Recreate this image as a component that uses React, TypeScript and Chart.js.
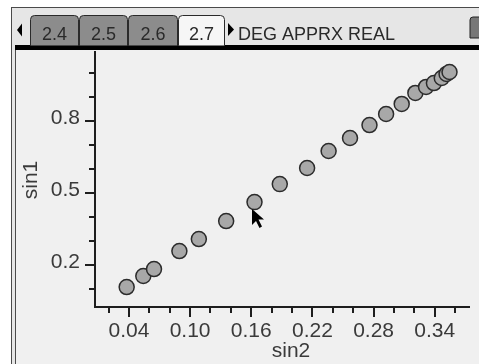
import React, { useEffect, useRef } from "react";
import { Chart, registerables } from "chart.js";

Chart.register(...registerables);

// ---- data ----
const sin2 = [0.0378, 0.0541, 0.0646, 0.0895, 0.1086, 0.1354, 0.1632, 0.188, 0.2148, 0.2359, 0.2569, 0.276, 0.2923, 0.3076, 0.321, 0.3315, 0.3392, 0.3469, 0.3516, 0.3545];
const sin1 = [0.106, 0.152, 0.181, 0.256, 0.306, 0.381, 0.46, 0.535, 0.602, 0.673, 0.727, 0.781, 0.827, 0.869, 0.915, 0.94, 0.956, 0.977, 0.994, 1.002];

const xTickValues = [0.02, 0.04, 0.06, 0.08, 0.1, 0.12, 0.14, 0.16, 0.18, 0.2, 0.22, 0.24, 0.26, 0.28, 0.3, 0.32, 0.34, 0.36];
const xTickLabels = ["0.04", "0.10", "0.16", "0.22", "0.28", "0.34"];
const yTickValues = [0.1, 0.2, 0.3, 0.4, 0.5, 0.6, 0.7, 0.8, 0.9, 1.0];
const yTickLabels = ["0.2", "0.5", "0.8"];
const tabLabels = ["2.4", "2.5", "2.6", "2.7"];
const statusText = "DEG APPRX REAL";
const xTitle = "sin2";
const yTitle = "sin1";

const FONT = "'Liberation Sans', Arial, sans-serif";

function roundTopRect(ctx: CanvasRenderingContext2D, x: number, y: number, w: number, h: number, r: number) {
  ctx.beginPath();
  ctx.moveTo(x, y + h);
  ctx.lineTo(x, y + r);
  ctx.quadraticCurveTo(x, y, x + r, y);
  ctx.lineTo(x + w - r, y);
  ctx.quadraticCurveTo(x + w, y, x + w, y + r);
  ctx.lineTo(x + w, y + h);
}

const framePlugin = {
  id: "tiframe",
  beforeDraw(chart: any) {
    const ctx: CanvasRenderingContext2D = chart.ctx;
    const W = chart.width;
    const H = chart.height;
    ctx.save();
    ctx.fillStyle = "#ffffff";
    ctx.fillRect(0, 0, W, H);
    ctx.fillStyle = "#e6e6e6";
    ctx.fillRect(11, 7, W - 11, H - 7);
    ctx.fillStyle = "#f0f0f0";
    ctx.fillRect(16, 50, W - 16, H - 50);
    ctx.fillStyle = "#4a4a4a";
    ctx.fillRect(11, 7, W - 11, 1);
    ctx.fillRect(11, 7, 1, H - 7);
    ctx.fillRect(15, 50, 1, H - 50);
    ctx.fillStyle = "#000000";
    ctx.fillRect(15, 45, W - 15, 5);

    ctx.fillStyle = "#000";
    ctx.beginPath();
    ctx.moveTo(17, 30);
    ctx.lineTo(22, 23.5);
    ctx.lineTo(22, 36.5);
    ctx.closePath();
    ctx.fill();

    const tabX = [30, 79, 128, 178];
    const tabW = [48, 48, 49, 46];
    ctx.font = `18px ${FONT}`;
    ctx.textAlign = "center";
    ctx.textBaseline = "alphabetic";
    tabLabels.forEach((t, i) => {
      const active = i === tabLabels.length - 1;
      roundTopRect(ctx, tabX[i] + 0.5, 15.5, tabW[i], 30, 4);
      ctx.fillStyle = active ? "#f6f6f6" : "#8c8c8c";
      ctx.fill();
      ctx.strokeStyle = "#2a2a2a";
      ctx.lineWidth = 1;
      ctx.stroke();
      ctx.fillStyle = "#2a2a2a";
      ctx.fillText(t, tabX[i] + tabW[i] / 2 + 0.5, 40);
    });

    ctx.fillStyle = "#000";
    ctx.beginPath();
    ctx.moveTo(228, 23);
    ctx.lineTo(234, 29.5);
    ctx.lineTo(228, 36);
    ctx.closePath();
    ctx.fill();

    ctx.textAlign = "left";
    ctx.fillStyle = "#2a2a2a";
    ctx.fillText(statusText, 238, 40);

    ctx.beginPath();
    ctx.moveTo(470, 38);
    ctx.lineTo(470, 20);
    ctx.quadraticCurveTo(470, 17, 473, 17);
    ctx.lineTo(W + 2, 17);
    ctx.lineTo(W + 2, 38);
    ctx.closePath();
    ctx.fillStyle = "#777";
    ctx.fill();
    ctx.strokeStyle = "#222";
    ctx.stroke();
    ctx.restore();
  },
  afterDraw(chart: any) {
    const ctx: CanvasRenderingContext2D = chart.ctx;
    const xs = chart.scales.x;
    const ys = chart.scales.y;
    const area = chart.chartArea;
    ctx.save();
    ctx.fillStyle = "#1e1e1e";
    ctx.fillRect(area.left - 2, area.top, 2, area.bottom - area.top + 2);
    ctx.fillRect(area.left - 2, area.bottom, area.right - area.left + 2, 2);

    xTickValues.forEach((v) => {
      const px = Math.round(xs.getPixelForValue(v));
      const isMajor = xTickLabels.some((l) => Math.abs(parseFloat(l) - v) < 1e-6);
      ctx.fillRect(px - 1, area.bottom + 2, 2, isMajor ? 9 : 5);
    });
    yTickValues.forEach((v) => {
      const py = Math.round(ys.getPixelForValue(v));
      const isMajor = yTickLabels.some((l) => Math.abs(parseFloat(l) - v) < 1e-6);
      const len = isMajor ? 9 : 5;
      ctx.fillRect(area.left - 2 - len, py - 1, len, 2);
    });

    ctx.fillStyle = "#3a3a3a";
    ctx.font = `21px ${FONT}`;
    ctx.textBaseline = "alphabetic";
    ctx.textAlign = "center";
    xTickLabels.forEach((l) => {
      const px = xs.getPixelForValue(parseFloat(l));
      ctx.fillText(l, px, 337);
    });
    ctx.textAlign = "right";
    yTickLabels.forEach((l) => {
      const py = ys.getPixelForValue(parseFloat(l));
      ctx.fillText(l, 80, py + 3.5);
    });

    ctx.textAlign = "center";
    ctx.fillText(xTitle, 291, 357);
    ctx.save();
    ctx.translate(37, 180);
    ctx.rotate(-Math.PI / 2);
    ctx.fillText(yTitle, 0, 0);
    ctx.restore();

    ctx.beginPath();
    ctx.moveTo(252, 209);
    ctx.lineTo(252, 225);
    ctx.lineTo(256, 221);
    ctx.lineTo(259.5, 228);
    ctx.lineTo(262, 226.5);
    ctx.lineTo(258.5, 219.5);
    ctx.lineTo(264, 219.5);
    ctx.closePath();
    ctx.fillStyle = "#000";
    ctx.fill();
    ctx.restore();
  },
};

export default function App() {
  const ref = useRef<HTMLCanvasElement | null>(null);
  useEffect(() => {
    if (!ref.current) return;
    const chart = new Chart(ref.current, {
      type: "scatter",
      data: {
        datasets: [
          {
            label: yTitle,
            data: sin2.map((x, i) => ({ x, y: sin1[i] })),
            pointRadius: 7.5,
            pointBackgroundColor: "#a8a8a8",
            pointBorderColor: "#2b2b2b",
            pointBorderWidth: 1.5,
            clip: false as any,
          },
        ],
      },
      options: {
        responsive: false,
        animation: false,
        events: [],
        layout: { padding: { left: 96, top: 51, right: 0, bottom: 58 } },
        plugins: { legend: { display: false }, tooltip: { enabled: false } },
        scales: {
          x: { type: "linear", display: false, min: 0.0077, max: 0.3746 },
          y: { type: "linear", display: false, min: 0.0271, max: 1.0896 },
        },
      },
      plugins: [framePlugin],
    });
    return () => chart.destroy();
  }, []);
  return (
    <div style={{ position: "fixed", left: 0, top: 0, width: 479, height: 364 }}>
      <canvas ref={ref} width={479} height={364} style={{ width: 479, height: 364, display: "block" }} />
    </div>
  );
}
